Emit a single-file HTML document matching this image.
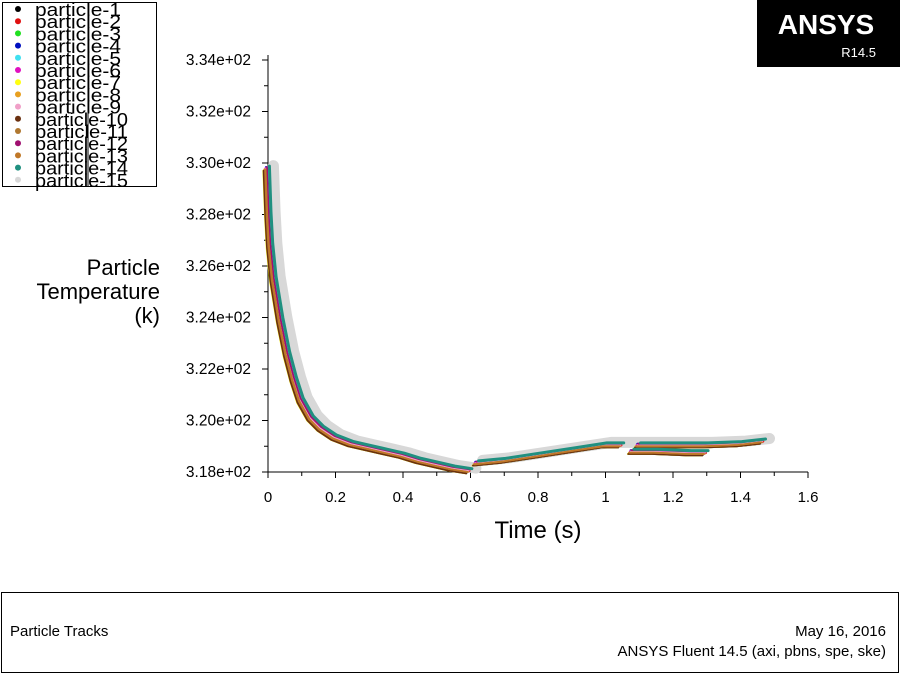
<!DOCTYPE html>
<html><head><meta charset="utf-8"><style>
body{margin:0;width:900px;height:675px;background:#fff;overflow:hidden;font-family:"Liberation Sans",sans-serif;position:relative}
</style></head><body>
<svg width="900" height="675" style="position:absolute;left:0;top:0" font-family="Liberation Sans, sans-serif">
<g id="legend"></g>
<rect x="757" y="0" width="143" height="67" fill="#000"/>
<text x="826" y="34" fill="#fff" font-size="28" font-weight="bold" text-anchor="middle">ANSYS</text>
<text x="876" y="57" fill="#fff" font-size="13" text-anchor="end">R14.5</text>
<g id="axes"></g>
<g id="plot"></g>
<text x="160" y="275" font-size="22" text-anchor="end"><tspan x="160">Particle</tspan><tspan x="160" dy="24">Temperature</tspan><tspan x="160" dy="24">(k)</tspan></text>
<text x="538" y="538" font-size="24" text-anchor="middle">Time (s)</text>
<rect x="1.5" y="592.5" width="897" height="80" fill="none" stroke="#000"/>
<text x="10" y="636" font-size="15">Particle Tracks</text>
<text x="886" y="636" font-size="15" text-anchor="end">May 16, 2016</text>
<text x="886" y="656" font-size="15" text-anchor="end">ANSYS Fluent 14.5 (axi, pbns, spe, ske)</text>
</svg>
<script>
const names=["particle-1","particle-2","particle-3","particle-4","particle-5","particle-6","particle-7","particle-8","particle-9","particle-10","particle-11","particle-12","particle-13","particle-14","particle-15"];
const colors=["#000","#e01010","#20e020","#0010c0","#40e0f0","#e010c0","#ffff10","#e8a020","#f0a0c8","#6a3010","#b07830","#a01070","#c07828","#209080","#d8d8d8"];
const xTicks=[0,0.2,0.4,0.6,0.8,1,1.2,1.4,1.6];
const yTicks=[318,320,322,324,326,328,330,332,334];
const yTickLabels=["3.18e+02","3.20e+02","3.22e+02","3.24e+02","3.26e+02","3.28e+02","3.30e+02","3.32e+02","3.34e+02"];
const segA_t=[0,0.005,0.01,0.02,0.04,0.06,0.08,0.1,0.13,0.16,0.2,0.25,0.3,0.35,0.4,0.45,0.5,0.55,0.6];
const segA_T=[329.8,328.0,326.8,325.5,323.9,322.6,321.6,320.8,320.1,319.7,319.35,319.1,318.95,318.8,318.65,318.45,318.3,318.15,318.05];
const segB_t=[0.62,0.7,0.8,0.9,1.0,1.05];
const segB_T=[318.35,318.45,318.65,318.85,319.05,319.05];
const segC_t=[1.1,1.2,1.3,1.4,1.47];
const segC_T=[319.05,319.05,319.05,319.1,319.2];
const segD_t=[1.08,1.15,1.25,1.3];
const segD_T=[318.8,318.8,318.75,318.75];
const tShift=[-0.012,-0.004,-0.01,-0.006,0.0,-0.008,-0.014,-0.011,-0.005,-0.013,-0.009,-0.003,-0.007,0.004,0.016];
const TShift=[-0.1,0.0,-0.05,0.05,0.05,0.0,-0.1,-0.05,0.0,-0.1,-0.05,0.05,-0.05,0.08,0.1];
const X=t=>268+t*337.5, Y=T=>472-(T-318)*25.75;
const NS="http://www.w3.org/2000/svg";
function mk(tag,attrs,parent){const e=document.createElementNS(NS,tag);for(const k in attrs)e.setAttribute(k,attrs[k]);parent.appendChild(e);return e;}
const axes=document.getElementById('axes'),plot=document.getElementById('plot'),leg=document.getElementById('legend');
let a=mk('line',{x1:268,y1:472,x2:808,y2:472,stroke:'#000'},axes);


a=mk('line',{x1:268,y1:55,x2:268,y2:472,stroke:'#000'},axes);


xTicks.forEach((v,i)=>{mk('line',{x1:X(v),y1:472,x2:X(v),y2:478,stroke:'#000'},axes);
 if(i<xTicks.length-1)mk('line',{x1:X(v+0.1),y1:472,x2:X(v+0.1),y2:476,stroke:'#000'},axes);
 const t=mk('text',{x:X(v),y:502,'font-size':15,'text-anchor':'middle'},axes);t.textContent=String(v);
 
 });
yTicks.forEach((v,i)=>{mk('line',{x1:262,y1:Y(v),x2:268,y2:Y(v),stroke:'#000'},axes);
 if(i<yTicks.length-1)mk('line',{x1:264,y1:Y(v+1),x2:268,y2:Y(v+1),stroke:'#000'},axes);
 const t=mk('text',{x:251,y:Y(v)+5,'font-size':15.5,'text-anchor':'end'},axes);t.textContent=yTickLabels[i];
 
 });
function seg(ts,Ts,i){return ts.map((t,k)=>(k?'L':'M')+X(t+tShift[i]).toFixed(1)+','+Y(Ts[k]+TShift[i]).toFixed(1)).join(' ');}
const order=[14,0,1,2,3,4,5,6,7,8,9,10,11,12,13];
order.forEach(i=>{const w=i==14?11:(i==1||i==13?3:1.8);
 let d=seg(segA_t,segA_T,i)+' '+seg(segB_t,segB_T,i)+' '+seg(segC_t,segC_T,i);
 if(i==14)d=seg(segA_t,segA_T,i)+' '+seg(segB_t.concat(segC_t),segB_T.concat(segC_T),i);
 else d+=' '+seg(segD_t,segD_T,i);
 const p=mk('path',{d:d,fill:'none',stroke:colors[i],'stroke-width':w,'stroke-linecap':'round','stroke-linejoin':'round'},plot);
 
 });
mk('rect',{x:2.5,y:2.5,width:154,height:184,fill:'#fff',stroke:'#000'},leg);
names.forEach((n,i)=>{const y=9+i*12.2;
 const g=mk('g',{},leg);
 
 
 mk('circle',{cx:18,cy:y,r:3,fill:colors[i]},g);
 const t=mk('text',{x:35,y:y+7,'font-size':18,textLength:n.length>10?93:86,lengthAdjust:'spacingAndGlyphs'},g);t.textContent=n;});
mk('line',{x1:88,y1:3,x2:88,y2:186,stroke:'#000'},leg);
</script>
</body></html>
